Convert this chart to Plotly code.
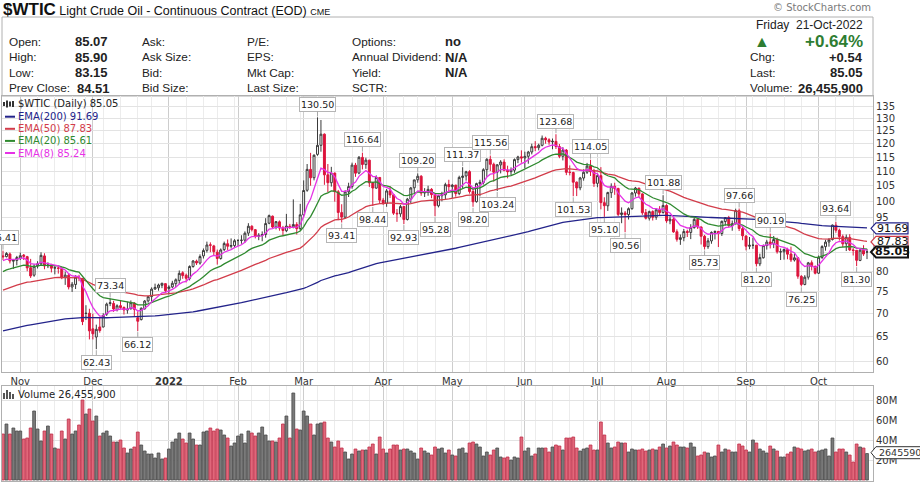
import numpy as np
import pandas as pd
import plotly.graph_objects as go

# trading days shown on the chart (NYMEX holidays removed)
holidays = ['2021-11-25', '2021-12-24', '2022-01-17', '2022-02-21', '2022-04-15',
            '2022-05-30', '2022-06-20', '2022-07-04', '2022-09-05']
dates = [d for d in pd.bdate_range('2021-10-25', '2022-10-21')
         if d.strftime('%Y-%m-%d') not in holidays]

opens = [
    84.0, 83.8, 84.5, 82.6, 82.8,  # Oct
    83.4, 84.2, 83.8, 80.9, 79.0, 81.4, 81.9, 84.0, 81.4, 81.6, 80.8, 80.8, 80.7, 78.4, 79.0, 76.1, 76.7, 78.5, 78.2, 70.0, 70.0,  # Nov
    66.6, 64.9, 67.0, 67.0, 69.8, 72.2, 72.2, 70.8, 71.7, 71.3, 70.7, 71.0, 72.3, 69.0, 68.6, 71.0, 72.8, 73.8, 75.6, 75.9, 76.5, 76.9,  # Dec
    75.7, 76.1, 76.9, 77.7, 79.6, 79.0, 78.2, 81.2, 82.6, 82.1, 84.0, 85.5, 87.0, 86.7, 85.0, 83.3, 85.7, 87.3, 86.6, 86.8,  # Jan
    88.2, 88.3, 88.3, 90.3, 92.3, 91.3, 89.4, 89.7, 89.9, 93.2, 95.3, 92.1, 93.6, 91.8, 91.0, 92.3, 92.1, 92.8, 91.6,  # Feb
    95.7, 103.5, 110.6, 107.7, 116.0, 119.4, 123.7, 108.7, 106.0, 109.3, 103.0, 96.4, 95.0, 103.0, 104.7, 112.1, 109.3, 114.9, 112.3, 113.9, 106.0, 104.2, 107.8,  # Mar
    100.3, 99.3, 103.3, 102.0, 96.2, 96.0, 98.3, 94.3, 100.6, 104.3, 107.0, 108.2, 102.6, 102.8, 103.8, 102.1, 98.5, 101.7, 102.0, 105.4,  # Apr
    104.7, 105.2, 102.4, 107.8, 108.3, 109.8, 103.1, 99.8, 105.7, 106.1, 110.5, 114.2, 112.4, 109.6, 112.2, 113.2, 110.3, 109.8, 110.3, 114.1, 115.1,  # May
    114.7, 115.3, 116.9, 118.9, 118.5, 119.4, 122.1, 121.5, 120.7, 120.9, 118.9, 115.3, 117.6, 109.6, 109.5, 106.2, 104.3, 107.6, 109.6, 111.8, 109.8,  # Jun
    105.8, 108.4, 99.5, 98.5, 102.7, 104.8, 104.1, 95.8, 96.3, 95.8, 97.6, 102.6, 104.2, 102.3, 96.4, 94.7, 96.7, 95.0, 97.3, 96.4,  # Jul
    98.6, 93.9, 94.4, 90.7, 88.5, 89.0, 90.8, 90.5, 91.9, 94.3, 92.1, 89.4, 86.5, 88.1, 90.5, 90.8, 90.2, 93.7, 94.9, 92.5, 93.1, 97.0, 91.6,  # Aug
    89.5, 86.6, 86.9, 86.9, 81.9, 83.5, 86.8, 87.8, 87.3, 88.5, 85.1, 85.1, 85.7, 84.5, 82.9, 83.5, 78.7, 76.7, 78.5, 82.2, 81.2,  # Sep
    79.5, 83.6, 86.5, 87.8, 88.5, 92.6, 91.1, 89.3, 87.3, 89.1, 85.6, 85.5, 82.8, 85.5, 85.07,  # Oct
]
highs = [
    85.41, 85.0, 84.9, 83.0, 84.0,
    84.9, 84.5, 84.0, 83.2, 81.8, 82.6, 84.97, 84.7, 82.3, 81.9, 81.3, 81.2, 81.1, 79.9, 79.3, 77.3, 79.0, 79.1, 78.3, 71.8, 71.0,
    69.9, 67.5, 69.0, 70.0, 72.4, 73.34, 72.8, 72.0, 73.0, 71.5, 72.6, 72.9, 72.5, 70.4, 71.3, 73.0, 73.9, 76.0, 76.9, 76.9, 77.1, 77.0,
    76.5, 77.6, 78.2, 80.2, 80.0, 79.4, 81.5, 82.9, 83.0, 84.4, 86.0, 87.9, 87.7, 87.0, 85.7, 86.0, 87.9, 88.5, 88.8, 88.6,
    88.6, 89.7, 90.8, 93.2, 92.6, 91.5, 90.3, 90.8, 94.7, 95.8, 95.5, 93.8, 94.0, 92.4, 96.0, 93.0, 100.54, 93.5, 99.1,
    106.8, 112.5, 116.57, 116.0, 130.50, 129.4, 124.0, 112.5, 111.5, 109.5, 103.6, 99.0, 103.5, 106.0, 113.0, 112.9, 115.4, 116.64, 114.8, 114.0, 106.3, 108.5, 107.9,
    101.0, 103.9, 104.8, 102.2, 97.5, 98.8, 98.4, 101.0, 104.6, 107.0, 109.20, 108.6, 104.2, 105.0, 104.2, 102.3, 102.0, 103.0, 106.0, 107.0,
    105.6, 105.3, 108.4, 111.37, 110.1, 110.3, 104.4, 106.0, 107.0, 111.0, 114.6, 115.56, 113.0, 112.5, 113.9, 114.2, 111.9, 111.3, 114.5, 115.5, 117.5,
    117.0, 117.3, 120.0, 120.99, 120.0, 123.18, 122.7, 122.1, 122.0, 123.68, 119.9, 118.7, 118.0, 112.0, 109.8, 106.4, 108.0, 110.6, 112.9, 114.05, 110.8,
    109.3, 111.4, 101.2, 103.0, 105.8, 106.0, 104.3, 98.0, 96.9, 98.0, 102.9, 104.6, 104.3, 102.5, 97.5, 97.0, 97.1, 97.6, 98.4, 101.88,
    99.0, 95.3, 95.1, 91.4, 89.9, 91.5, 91.3, 92.9, 94.8, 94.4, 92.2, 89.8, 88.9, 90.8, 91.1, 90.9, 94.0, 95.0, 95.4, 94.0, 97.6, 97.66, 92.3,
    89.6, 89.2, 89.0, 87.0, 84.6, 87.1, 88.4, 90.19, 89.5, 89.0, 86.0, 86.0, 86.2, 86.5, 84.6, 83.6, 79.0, 79.0, 82.4, 82.8, 81.5,
    84.1, 86.9, 88.4, 88.9, 92.8, 93.64, 91.6, 89.9, 89.9, 90.0, 86.1, 85.6, 86.0, 86.9, 85.90,
]
lows = [
    82.9, 83.6, 82.0, 80.6, 81.5,
    82.9, 82.9, 80.0, 78.3, 78.6, 80.7, 81.5, 80.5, 80.8, 79.7, 79.2, 79.4, 78.0, 76.6, 75.5, 74.9, 75.6, 77.5, 67.4, 68.5, 64.4,
    64.4, 62.43, 65.8, 66.9, 69.4, 71.6, 70.3, 70.4, 70.9, 69.7, 69.9, 70.8, 69.3, 66.12, 68.4, 70.8, 72.4, 72.6, 75.4, 75.2, 75.8, 74.7,
    74.3, 75.8, 76.1, 76.8, 78.1, 77.2, 77.7, 80.9, 81.6, 81.7, 83.3, 84.9, 85.0, 84.2, 81.7, 83.0, 85.3, 85.6, 86.0, 86.4,
    86.7, 87.3, 87.6, 89.5, 90.8, 88.8, 88.3, 88.0, 89.0, 92.9, 91.8, 91.4, 91.0, 89.5, 90.6, 91.5, 91.7, 89.9, 91.0,
    95.0, 103.0, 105.0, 106.8, 115.5, 117.0, 105.3, 102.8, 104.7, 99.8, 94.1, 93.41, 94.6, 101.3, 104.0, 108.0, 108.9, 110.6, 110.8, 104.6, 98.44, 104.0, 99.3,
    98.8, 98.2, 101.0, 95.7, 93.6, 95.1, 92.93, 94.0, 99.3, 102.6, 106.0, 101.7, 101.3, 101.7, 100.9, 95.28, 98.0, 99.9, 100.5, 103.0,
    101.0, 101.4, 101.9, 104.2, 106.7, 102.4, 98.20, 99.5, 101.5, 105.4, 108.0, 110.0, 106.4, 103.24, 109.2, 109.9, 107.5, 108.6, 109.4, 112.8, 113.0,
    111.0, 112.6, 116.0, 117.2, 117.5, 119.0, 120.0, 119.6, 117.9, 118.0, 114.6, 113.8, 108.6, 108.5, 101.53, 101.6, 103.5, 106.7, 109.0, 108.3, 104.6,
    104.5, 97.4, 95.10, 96.9, 101.0, 102.0, 95.3, 93.2, 90.56, 94.3, 97.3, 101.4, 101.2, 95.7, 94.3, 94.0, 94.0, 94.2, 95.5, 96.1,
    93.3, 92.9, 90.4, 87.9, 87.0, 88.0, 89.2, 88.6, 91.6, 91.5, 87.1, 85.73, 85.9, 87.3, 88.5, 86.4, 89.5, 92.5, 91.9, 91.0, 92.8, 90.9, 88.3,
    85.5, 85.8, 85.9, 81.20, 81.3, 83.3, 85.7, 86.0, 86.1, 84.6, 82.9, 83.0, 83.1, 82.4, 82.5, 78.1, 76.25, 76.5, 77.9, 80.2, 79.2,
    79.3, 83.2, 85.4, 86.5, 88.2, 90.4, 88.2, 86.4, 85.3, 85.3, 84.1, 81.30, 82.6, 84.0, 83.15,
]
closes = [
    83.76, 84.65, 82.66, 82.81, 83.57,
    84.05, 83.91, 80.86, 78.81, 81.27, 81.93, 84.15, 81.34, 81.59, 80.79, 80.88, 80.76, 78.36, 79.01, 76.10, 76.75, 78.50, 78.39, 68.15, 69.95, 66.18,
    65.57, 66.50, 66.26, 69.49, 72.05, 72.36, 70.94, 71.67, 71.29, 70.73, 70.87, 72.38, 70.86, 68.23, 71.12, 72.76, 73.79, 75.57, 75.98, 76.56, 76.99, 75.21,
    76.08, 76.99, 77.85, 79.46, 78.90, 78.23, 81.22, 82.64, 82.12, 83.82, 85.43, 86.96, 86.90, 85.14, 83.31, 85.60, 87.35, 86.61, 86.82, 88.15,
    88.20, 88.26, 90.27, 92.31, 91.32, 89.36, 89.66, 89.88, 93.10, 95.46, 92.07, 93.66, 91.76, 91.07, 92.35, 92.10, 92.81, 91.59, 95.72,
    103.41, 110.60, 107.67, 115.68, 119.40, 123.70, 108.70, 106.02, 109.33, 103.01, 96.44, 95.04, 102.98, 104.70, 112.12, 109.27, 114.93, 112.34, 113.90, 105.96, 104.24, 107.82, 100.28,
    99.27, 103.28, 101.96, 96.23, 96.03, 98.26, 94.29, 100.60, 104.25, 106.95, 108.21, 102.56, 102.75, 103.79, 102.07, 98.54, 101.70, 102.02, 105.36, 104.69,
    105.17, 102.41, 107.81, 108.26, 109.77, 103.09, 99.76, 105.71, 106.13, 110.49, 114.20, 112.40, 109.59, 112.21, 113.23, 110.29, 109.77, 110.33, 114.09, 115.07, 114.67,
    115.26, 116.87, 118.87, 118.50, 119.41, 122.11, 121.51, 120.67, 120.93, 118.93, 115.31, 117.59, 109.56, 109.52, 106.19, 104.27, 107.62, 109.57, 111.76, 109.78, 105.76,
    108.43, 99.50, 98.53, 102.73, 104.79, 104.09, 95.84, 96.30, 95.78, 97.59, 102.60, 104.22, 102.26, 96.35, 94.70, 96.70, 94.98, 97.26, 96.42, 98.62,
    93.89, 94.42, 90.66, 88.54, 89.01, 90.76, 90.50, 91.93, 94.34, 92.09, 89.41, 86.53, 88.11, 90.50, 90.77, 90.23, 93.74, 94.89, 92.52, 93.06, 97.01, 91.64, 89.55,
    86.61, 86.87, 86.88, 81.94, 83.54, 86.79, 87.78, 87.31, 88.48, 85.10, 85.11, 85.73, 84.45, 82.94, 83.49, 78.74, 76.71, 78.50, 82.15, 81.23, 79.49,
    83.63, 86.52, 87.76, 88.45, 92.64, 91.13, 89.35, 87.27, 89.11, 85.61, 85.46, 82.82, 85.55, 84.51, 85.05,
]
# volume in millions
volumes = [
    46, 56, 46, 52, 49,
    49, 41, 42, 52, 69, 51, 39, 49, 54, 46, 32, 31, 49, 41, 61, 46, 49, 55, 80, 66, 71,
    59, 64, 44, 47, 49, 44, 38, 38, 40, 32, 27, 31, 33, 48, 35, 29, 26, 26, 22, 27, 21, 22,
    31, 38, 41, 47, 41, 37, 47, 41, 35, 35, 48, 49, 52, 49, 51, 50, 45, 42, 34, 37,
    44, 46, 37, 49, 47, 44, 47, 53, 45, 39, 39, 38, 42, 56, 64, 42, 87, 51, 50,
    69, 64, 56, 45, 56, 57, 58, 42, 38, 33, 39, 32, 28, 21, 26, 31, 29, 30, 30, 33, 36, 26, 43,
    31, 27, 31, 35, 35, 30, 31, 31, 29, 27, 21, 32, 29, 27, 25, 33, 31, 32, 27, 30,
    25, 24, 31, 32, 27, 37, 38, 36, 33, 24, 28, 25, 30, 32, 23, 22, 23, 20, 23, 22, 43,
    29, 32, 24, 26, 32, 32, 32, 28, 33, 35, 34, 30, 42, 42, 43, 32, 29, 31, 32, 35, 30,
    30, 58, 45, 37, 32, 33, 38, 37, 37, 28, 31, 30, 30, 31, 29, 30, 31, 30, 33, 36,
    32, 34, 38, 35, 33, 33, 32, 37, 33, 24, 25, 28, 27, 23, 24, 35, 28, 31, 30, 28, 28, 36, 34,
    30, 28, 40, 37, 31, 29, 27, 34, 31, 29, 23, 23, 26, 28, 33, 32, 31, 29, 30, 31, 28,
    29, 30, 31, 24, 42, 28, 31, 31, 28, 25, 18, 36, 33, 32, 26.4559,
]

month_labels = ['Nov', 'Dec', '<b>2022</b>', 'Feb', 'Mar', 'Apr', 'May', 'Jun', 'Jul', 'Aug', 'Sep', 'Oct']
price_ticks = [60, 65, 70, 75, 80, 85, 90, 95, 100, 105, 110, 115, 120, 125, 130, 135]
hidden_ticks = [85, 90]   # covered by the last-value markers
volume_ticks = [20, 40, 60, 80]

# swing high / low labels
swing_dates = ['2021-10-25', '2021-12-02', '2021-12-08', '2021-12-20', '2022-03-07', '2022-03-16',
               '2022-03-24', '2022-03-29', '2022-04-11', '2022-04-18', '2022-04-25', '2022-05-05',
               '2022-05-10', '2022-05-17', '2022-05-19', '2022-06-14', '2022-06-22', '2022-06-29',
               '2022-07-06', '2022-07-14', '2022-07-29', '2022-08-16', '2022-08-30', '2022-09-07',
               '2022-09-13', '2022-09-26', '2022-10-10', '2022-10-18']
swing_sides = ['hi', 'lo', 'hi', 'lo', 'hi', 'lo', 'hi', 'lo', 'lo', 'hi', 'lo', 'hi',
               'lo', 'hi', 'lo', 'hi', 'lo', 'hi', 'lo', 'lo', 'hi', 'lo', 'hi', 'lo',
               'hi', 'lo', 'hi', 'lo']

ema_periods = [200, 50, 20, 8]
ema_seeds = [66.0, 75.0, 79.5, 82.4]
ema_last = ['91.69', '87.83', '85.61', '85.24']
ema_colors = ['#23238a', '#d23c4a', '#2f8a2f', '#e632e6']

n = len(dates)
assert len(opens) == len(highs) == len(lows) == len(closes) == len(volumes) == n
idx = list(range(n))
date_str = [d.strftime('%Y-%m-%d') for d in dates]


def ema(vals, period, seed):
    k = 2.0 / (period + 1)
    e, out = seed, []
    for v in vals:
        e += k * (v - e)
        out.append(e)
    return out


# pixel helpers for the layout furniture (plot area: x 2..873, y 96..481)
L, R, T, B = 2, 47, 96, 2
W, H = 920 - L - R, 483 - T - B


def px(x, y):
    return (x - L) / W, (483 - B - y) / H


LOG_TOP, PX_DEC = 2.1451, 724.1


def price_y(v):
    return T + (LOG_TOP - np.log10(v)) * PX_DEC


fig = go.Figure()

prev = [opens[0]] + closes[:-1]
up = [i for i in idx if closes[i] >= prev[i]]
dn = [i for i in idx if closes[i] < prev[i]]
for sel, col in [(up, '#3a3a3a'), (dn, '#dc143c')]:
    fig.add_trace(go.Candlestick(
        x=[idx[i] for i in sel], open=[opens[i] for i in sel], high=[highs[i] for i in sel],
        low=[lows[i] for i in sel], close=[closes[i] for i in sel],
        text=[date_str[i] for i in sel],
        increasing=dict(line=dict(color=col, width=1), fillcolor='white'),
        decreasing=dict(line=dict(color=col, width=1), fillcolor=col),
        whiskerwidth=0, showlegend=False))

for p, s, c in zip(ema_periods, ema_seeds, ema_colors):
    fig.add_trace(go.Scatter(x=idx, y=ema(closes, p, s), mode='lines',
                             line=dict(color=c, width=1.3), showlegend=False, hoverinfo='skip'))

vol_fill = ['#7a7a7a' if closes[i] >= prev[i] else '#e0677a' for i in idx]
vol_edge = ['#4a4a4a' if closes[i] >= prev[i] else '#c0304a' for i in idx]
fig.add_trace(go.Bar(x=idx, y=volumes, marker=dict(color=vol_fill, line=dict(color=vol_edge, width=0.8)),
                     xaxis='x2', yaxis='y2', showlegend=False))

month_idx, week_idx = [], []
for i in range(n):
    if i == 0:
        continue
    if dates[i].month != dates[i - 1].month:
        month_idx.append(i)
    if dates[i].isocalendar()[1] != dates[i - 1].isocalendar()[1]:
        week_idx.append(i)

axis_font = dict(family='DejaVu Sans', size=10, color='#333333')
xr = [-(3 - L) / 3.456, n - 1 + (873 - 867) / 3.456]
common_x = dict(range=xr, showgrid=True, gridcolor='#cdcdcd', gridwidth=1,
                minor=dict(tickmode='array', tickvals=week_idx, showgrid=True, gridcolor='#ececec', gridwidth=1),
                showline=True, linecolor='#b0b0b0', mirror=True, zeroline=False, ticks='',
                tickmode='array', tickvals=month_idx, automargin=False)

fig.update_layout(
    width=920, height=483, margin=dict(l=L, r=R, t=T, b=B),
    paper_bgcolor='white', plot_bgcolor='white', bargap=0.18, boxgap=0.2,
    showlegend=False,
    xaxis=dict(common_x, anchor='y', ticktext=month_labels, tickfont=axis_font,
               rangeslider=dict(visible=False)),
    xaxis2=dict(common_x, anchor='y2', matches='x', showticklabels=False),
    yaxis=dict(domain=[(483 - B - 372) / H, 1], type='log', range=[1.7639, LOG_TOP], side='right',
               tickmode='array', tickvals=price_ticks,
               ticktext=['' if t in hidden_ticks else str(t) for t in price_ticks],
               tickfont=axis_font, gridcolor='#e3e3e3', showline=True, linecolor='#b0b0b0',
               mirror=True, ticks='', zeroline=False, automargin=False),
    yaxis2=dict(domain=[0, (483 - B - 386) / H], range=[-1, 94], side='right',
                tickmode='array', tickvals=volume_ticks, ticktext=[f'{t}M' for t in volume_ticks],
                tickfont=axis_font, gridcolor='#e3e3e3', showline=True, linecolor='#b0b0b0',
                mirror=True, ticks='', zeroline=False, automargin=False),
)

shapes, annots = [], []


def text(x, y, s, size=12, color='#222222', family='Liberation Sans', anchor='left', bold=False):
    xp, yp = px(x, y)
    annots.append(dict(x=xp, y=yp, xref='paper', yref='paper', text=f'<b>{s}</b>' if bold else s,
                       showarrow=False, xanchor=anchor, yanchor='middle',
                       font=dict(family=family, size=size, color=color)))


def line(x0, y0, x1, y1, color, width=1):
    a, b = px(x0, y0)
    c, d = px(x1, y1)
    shapes.append(dict(type='line', xref='paper', yref='paper', x0=a, y0=b, x1=c, y1=d,
                       line=dict(color=color, width=width)))


# title and header box
annots.append(dict(x=px(1, 9)[0], y=px(1, 9)[1], xref='paper', yref='paper', showarrow=False,
                   xanchor='left', yanchor='middle',
                   text='<b><span style="font-size:17px">$WTIC</span></b> Light Crude Oil - Continuous Contract (EOD) '
                        '<span style="font-size:9px">CME</span>',
                   font=dict(family='Liberation Sans', size=12.5, color='#111111')))
text(873, 8, '© StockCharts.com', size=10, color='#7a7a7a', family='DejaVu Sans', anchor='right')
x0p, y0p = px(2, 17)
x1p, y1p = px(873, 96)
shapes.append(dict(type='rect', xref='paper', yref='paper', x0=x0p, y0=y1p, x1=x1p, y1=y0p,
                   line=dict(color='#b0b0b0', width=1), fillcolor='white', layer='below'))

rows = [41.7, 57.3, 72.7, 88.3]
col_text = [
    (7, ['Open:', 'High:', 'Low:', 'Prev Close:'], False),
    (73, ['85.07', '85.90', '83.15', ''], True),
    (140, ['Ask:', 'Ask Size:', 'Bid:', 'Bid Size:'], False),
    (245, ['P/E:', 'EPS:', 'Mkt Cap:', 'Last Size:'], False),
    (350, ['Options:', 'Annual Dividend:', 'Yield:', 'SCTR:'], False),
    (443, ['no', 'N/A', 'N/A', ''], True),
]
for cx, items, bold in col_text:
    for ry, s in zip(rows, items):
        if s:
            text(cx, ry, s, size=13 if bold else 11.8, bold=bold)
text(75, rows[3], '84.51', size=13, bold=True)

text(865, 25, 'Friday  21-Oct-2022', size=12, anchor='right')
text(752, 42, '▲', size=16, color='#2e7d32')
text(865, 41, '+0.64%', size=17, color='#2e7d32', anchor='right', bold=True)
for ry, lab, val in zip(rows[1:], ['Chg:', 'Last:', 'Volume:'], ['+0.54', '85.05', '26,455,900']):
    text(748, ry, lab, size=11.8)
    text(865, ry, val, size=13, anchor='right', bold=True)

# in-chart legend
legend_font = 10
text(16, 103.5, '$WTIC (Daily) 85.05', size=legend_font, family='DejaVu Sans', color='#222222')
for xx, hh in [(4, 4), (7, 7), (10, 5), (13, 6)]:
    line(xx, 104 + hh / 2, xx, 104 - hh / 2, '#333333', 2)
for k, (p, v, c) in enumerate(zip(ema_periods, ema_last, ema_colors)):
    yy = 116.7 + k * 12.1
    line(5, yy, 15, yy, c, 2)
    text(16, yy, f'EMA({p}) {v}', size=legend_font, family='DejaVu Sans', color=c)
text(16, 394, 'Volume 26,455,900', size=legend_font, family='DejaVu Sans', color='#222222')
for xx, hh in [(4, 6), (7, 9), (10, 7), (13, 5)]:
    line(xx, 399, xx, 399 - hh, '#555555', 2)

# last value markers on the price scale
for v, c, bold in [('91.69', '#23238a', False), ('87.83', '#d23c4a', False), ('85.05', '#111111', True)]:
    yc = price_y(float(v))
    hh = 5.5
    pts = [px(871, yc), px(876, yc - hh), px(908, yc - hh), px(908, yc + hh), px(876, yc + hh)]
    path = 'M ' + ' L '.join(f'{a:.5f},{b:.5f}' for a, b in pts) + ' Z'
    shapes.append(dict(type='path', xref='paper', yref='paper', path=path, fillcolor='white',
                       line=dict(color=c, width=2 if bold else 1.2)))
    text(892.5, yc, v, size=11, family='DejaVu Sans', color='#111111', anchor='center', bold=bold)

yc = 452.7
pts = [px(871, yc), px(876, yc - 6), px(921, yc - 6), px(921, yc + 6), px(876, yc + 6)]
shapes.append(dict(type='path', xref='paper', yref='paper',
                   path='M ' + ' L '.join(f'{a:.5f},{b:.5f}' for a, b in pts) + ' Z',
                   fillcolor='white', line=dict(color='#333333', width=1)))
text(877, yc, '26455900', size=9.5, family='DejaVu Sans', color='#333333')

# swing labels
pos = {d: i for i, d in enumerate(date_str)}
for d, side in zip(swing_dates, swing_sides):
    i = pos[d]
    v = highs[i] if side == 'hi' else lows[i]
    annots.append(dict(x=i, y=np.log10(v), xref='x', yref='y', text=f'{v:.2f}',
                       showarrow=True, arrowhead=0, arrowwidth=1, arrowcolor='#a8a8a8',
                       ax=0, ay=-13 if side == 'hi' else 13, standoff=1,
                       font=dict(family='DejaVu Sans', size=9.5, color='#222222'),
                       bgcolor='white', bordercolor='#b5b5b5', borderwidth=1, borderpad=1))

fig.update_layout(shapes=shapes, annotations=annots)
fig.write_html('out.html', config={'displayModeBar': False},
               post_script="document.body.style.margin='0';")
